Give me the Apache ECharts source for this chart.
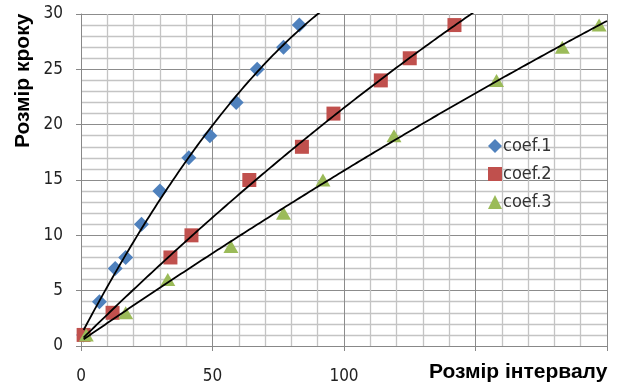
<!DOCTYPE html>
<html>
<head>
<meta charset="utf-8">
<title>Розмір кроку / Розмір інтервалу</title>
<script src="https://cdn.jsdelivr.net/npm/echarts@6/dist/echarts.min.js"></script>
<style>
  html, body { margin: 0; padding: 0; background: #fff; }
  #chart { width: 618px; height: 385px; }
</style>
</head>
<body>
<div id="chart"></div>
<script>
// дані
const coef1X = [1, 7, 13, 17, 23, 30, 41, 49, 59, 67, 77, 83];
const coef1Y = [1, 4, 7, 8, 11, 14, 17, 19, 22, 25, 27, 29];
const coef2X = [1, 12, 34, 42, 64, 84, 96, 114, 125, 142];
const coef2Y = [1, 3, 8, 10, 15, 18, 21, 24, 26, 29];
const coef3X = [2, 17, 33, 57, 77, 92, 119, 158, 183, 197];
const coef3Y = [1, 3, 6, 9, 12, 15, 19, 24, 27, 29];
const seriesNames = ["coef.1", "coef.2", "coef.3"];
const xTickLabels = ["0", "50", "100"];

const colors = ["#4F81BD", "#C0504D", "#9BBB59"];
const symbols = ["diamond", "rect", "triangle"];
const labelFont = "'Liberation Sans Narrow', 'DejaVu Sans Condensed', sans-serif";
const titleFont = "bold 21px 'Liberation Sans', Arial, sans-serif";

// лінія тренду: поліном 2-го ступеня методом найменших квадратів
function trendLine(xs, ys) {
  let s = [0, 0, 0, 0, 0];
  let t = [0, 0, 0];
  xs.forEach((x, i) => {
    for (let k = 0; k < 5; k++) s[k] += Math.pow(x, k);
    for (let k = 0; k < 3; k++) t[k] += ys[i] * Math.pow(x, k);
  });
  // система 3x3, метод Крамера
  const m = [
    [s[0], s[1], s[2]],
    [s[1], s[2], s[3]],
    [s[2], s[3], s[4]],
  ];
  const det = (a) =>
    a[0][0] * (a[1][1] * a[2][2] - a[1][2] * a[2][1]) -
    a[0][1] * (a[1][0] * a[2][2] - a[1][2] * a[2][0]) +
    a[0][2] * (a[1][0] * a[2][1] - a[1][1] * a[2][0]);
  const d = det(m);
  const c = [0, 1, 2].map((col) => {
    const mm = m.map((row, r) => row.map((v, k) => (k === col ? t[r] : v)));
    return det(mm) / d;
  });
  const pts = [];
  for (let x = 1; x <= 200; x += 1) {
    pts.push([x, c[0] + c[1] * x + c[2] * x * x]);
  }
  return pts;
}

const allX = [coef1X, coef2X, coef3X];
const allY = [coef1Y, coef2Y, coef3Y];

const chart = echarts.init(document.getElementById("chart"));

const scatterSeries = seriesNames.map((name, i) => ({
  name: name,
  type: "scatter",
  symbol: symbols[i],
  symbolSize: i === 2 ? [15, 13] : i === 0 ? 15 : 14,
  itemStyle: { color: colors[i], opacity: 1 },
  data: allX[i].map((x, j) => [x, allY[i][j]]),
  z: 2,
}));

const lineSeries = seriesNames.map((name, i) => ({
  name: name + " trend",
  type: "line",
  showSymbol: false,
  clip: true,
  lineStyle: { color: "#000", width: 1.8 },
  data: trendLine(allX[i], allY[i]),
  z: 3,
  silent: true,
}));

const option = {
  animation: false,
  grid: { left: 81, top: 14, right: 11, bottom: 38 },
  legend: {
    data: seriesNames,
    orient: "vertical",
    left: 483,
    top: 132,
    itemWidth: 14,
    itemHeight: 14,
    itemGap: 10,
    textStyle: { fontFamily: labelFont, fontSize: 18, color: "#333", padding: [0, 0, 0, -4] },
  },
  xAxis: {
    type: "value",
    min: 0,
    max: 200,
    interval: 50,
    axisLine: { lineStyle: { color: "#888", width: 1 } },
    axisTick: { show: true, length: 5, lineStyle: { color: "#888" } },
    axisLabel: {
      margin: 22,
      fontFamily: labelFont,
      fontSize: 17,
      color: "#222",
      formatter: (v) => (xTickLabels.includes(String(v)) ? String(v) : ""),
    },
    splitLine: { show: true, lineStyle: { color: "#8c8c8c", width: 1 } },
    minorTick: { show: false, splitNumber: 5 },
    minorSplitLine: { show: true, lineStyle: { color: "#c4c4c4", width: 1.3 } },
  },
  yAxis: {
    type: "value",
    min: 0,
    max: 30,
    interval: 5,
    axisLine: { show: true, lineStyle: { color: "#888", width: 1 } },
    axisTick: { show: true, length: 5, lineStyle: { color: "#888" } },
    axisLabel: { margin: 18, fontFamily: labelFont, fontSize: 17, color: "#222" },
    splitLine: { show: true, lineStyle: { color: "#8c8c8c", width: 1 } },
    minorTick: { show: false, splitNumber: 5 },
    minorSplitLine: { show: true, lineStyle: { color: "#c4c4c4", width: 1.3 } },
  },
  graphic: [
    {
      type: "text",
      left: 429,
      top: 362,
      style: { text: "Розмір інтервалу", font: titleFont, fill: "#000" },
    },
    {
      type: "text",
      x: 13,
      y: 148,
      rotation: Math.PI / 2,
      style: { text: "Розмір кроку", font: titleFont, fill: "#000" },
    },
  ],
  series: [...scatterSeries, ...lineSeries],
};

chart.setOption(option);
</script>
</body>
</html>
